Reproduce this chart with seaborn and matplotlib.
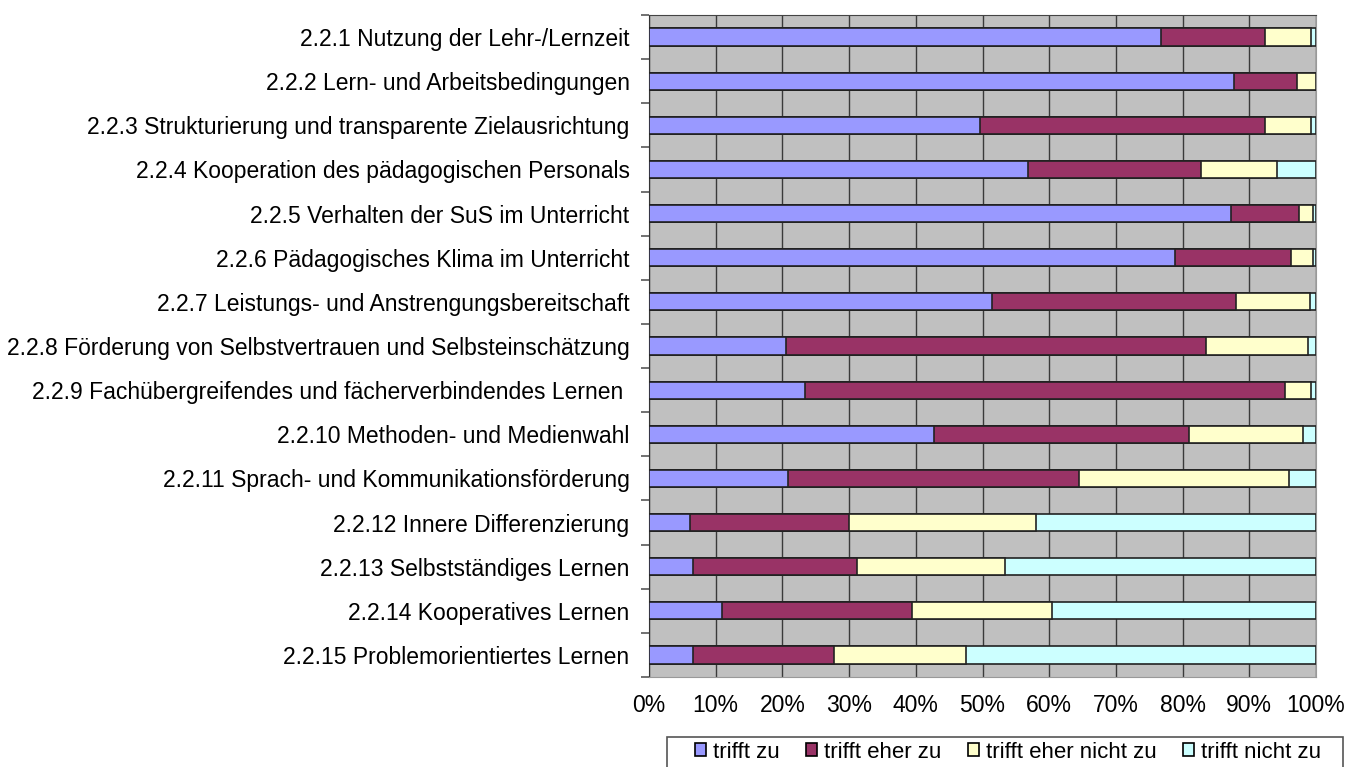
import numpy as np
import pandas as pd
import seaborn as sns
import matplotlib.pyplot as plt
from matplotlib.patches import Patch, Rectangle
from matplotlib.ticker import FuncFormatter, FixedLocator


categories=[
    "2.2.1 Nutzung der Lehr-/Lernzeit",
    "2.2.2 Lern- und Arbeitsbedingungen",
    "2.2.3 Strukturierung und transparente Zielausrichtung",
    "2.2.4 Kooperation des pädagogischen Personals",
    "2.2.5 Verhalten der SuS im Unterricht",
    "2.2.6 Pädagogisches Klima im Unterricht",
    "2.2.7 Leistungs- und Anstrengungsbereitschaft",
    "2.2.8 Förderung von Selbstvertrauen und Selbsteinschätzung",
    "2.2.9 Fachübergreifendes und fächerverbindendes Lernen ",
    "2.2.10 Methoden- und Medienwahl",
    "2.2.11 Sprach- und Kommunikationsförderung",
    "2.2.12 Innere Differenzierung",
    "2.2.13 Selbstständiges Lernen",
    "2.2.14 Kooperatives Lernen",
    "2.2.15 Problemorientiertes Lernen",
]

trifft_zu=[76.7,87.7,49.6,56.8,87.2,78.8,51.4,20.6,23.4,42.8,20.8,6.2,6.6,11.0,6.6]
trifft_eher_zu=[15.7,9.4,42.8,25.9,10.2,17.5,36.6,62.9,72.0,38.1,43.7,23.8,24.6,28.5,21.2]
trifft_eher_nicht_zu=[6.9,2.9,6.9,11.5,2.2,3.3,11.1,15.3,3.9,17.1,31.4,28.0,22.2,20.9,19.8]
trifft_nicht_zu=[0.7,0.0,0.7,5.8,0.4,0.4,0.9,1.2,0.7,2.0,4.1,42.0,46.6,39.6,52.4]

series_names=["trifft zu","trifft eher zu","trifft eher nicht zu","trifft nicht zu"]
colors=["#9999FF","#993366","#FFFFCC","#CCFFFF"]

plt.rcParams["font.family"]=["Liberation Sans","DejaVu Sans"]

df=pd.DataFrame({
    "Kategorie":categories,
    series_names[0]:trifft_zu,
    series_names[1]:trifft_eher_zu,
    series_names[2]:trifft_eher_nicht_zu,
    series_names[3]:trifft_nicht_zu,
})
values=df[series_names].to_numpy()
shares=values/values.sum(axis=1,keepdims=True)*100
cum=np.cumsum(shares,axis=1)

fig=plt.figure(figsize=(13.49,7.67),dpi=100)
ax=fig.add_axes([649/1349,1-677/767,667/1349,662/767])
ax.set_facecolor("#C0C0C0")

# draw cumulative layers from the widest to the narrowest
for i in reversed(range(4)):
    layer=pd.DataFrame({"Kategorie":categories,"wert":cum[:,i]})
    sns.barplot(data=layer,x="wert",y="Kategorie",orient="h",color=colors[i],saturation=1,
                edgecolor="#222222",linewidth=1.2,width=0.39,ax=ax,zorder=3)

ax.set_xlim(0,100)
ax.set_ylim(len(categories)-0.5,-0.5)
ax.xaxis.set_major_locator(FixedLocator(np.arange(0,101,10)))
ax.xaxis.set_major_formatter(FuncFormatter(lambda v,p:f"{v:.0f}%"))
ax.grid(axis="x",color="#3a3a3a",linewidth=1.0,zorder=1)
ax.set_axisbelow(True)
ax.set_xlabel("")
ax.set_ylabel("")

ax.tick_params(axis="x",length=0,labelsize=16.5,pad=12)
ax.tick_params(axis="y",length=0,labelsize=16.5,pad=14)
ax.set_yticks(np.arange(-0.5,len(categories),1),minor=True)
ax.tick_params(axis="y",which="minor",length=6,color="#666666",width=1.3)

ax.spines["top"].set_color("#444444")
ax.spines["right"].set_color("#999999")
ax.spines["bottom"].set_color("#999999")
ax.spines["left"].set_color("#333333")

# legend frame, cut off by the lower figure edge like in the original
fig.patches.append(Rectangle((667/1349,-0.02),(1343-667)/1349,0.02+(767-737)/767,
                             transform=fig.transFigure,facecolor="white",
                             edgecolor="#555555",linewidth=1.2))
handles=[Patch(facecolor=c,edgecolor="black",linewidth=1.2) for c in colors]
fig.legend(handles,series_names,loc="center left",bbox_to_anchor=(695/1349,1-752/767),
           ncol=4,frameon=False,fontsize=16,
           handlelength=0.5,handleheight=0.5,handletextpad=0.3,columnspacing=1.2,
           borderpad=0,borderaxespad=0)

plt.savefig("out.png",dpi=100)
plt.close()
